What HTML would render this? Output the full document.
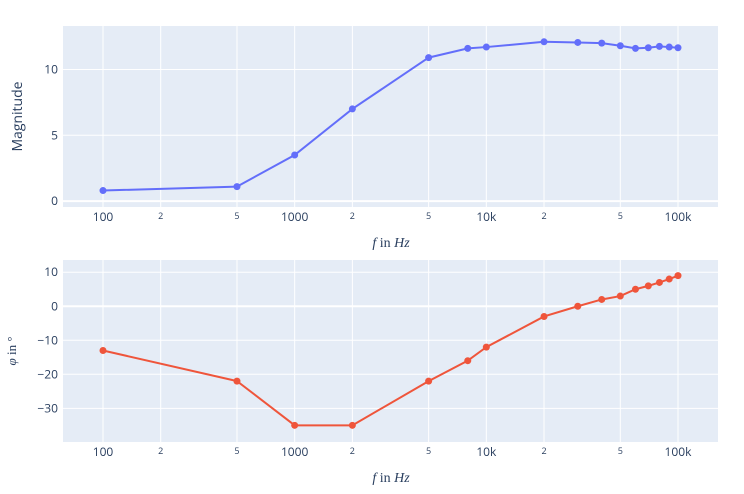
<!DOCTYPE html>
<html><head><meta charset="utf-8"><style>
body{margin:0;background:#fff}
svg{display:block;font-family:"Open Sans","Liberation Sans",sans-serif}
</style></head><body>
<svg id="c" width="744" height="494"></svg>
<script>
const freqs=[100,500,1000,2000,5000,8000,10000,20000,30000,40000,50000,60000,70000,80000,90000,100000];
const magnitude=[0.8,1.1,3.5,7.0,10.9,11.6,11.7,12.1,12.05,12.0,11.8,11.6,11.65,11.75,11.7,11.65];
const phase=[-13,-22,-35,-35,-22,-16,-12,-3,0,2,3,5,6,7,8,9];
const majorTicks=[100,1000,10000,100000];
const majorLabels=["100","1000","10k","100k"];
const minorTicks=[200,500,2000,5000,20000,50000];
const minorLabels=["2","5","2","5","2","5"];
const magTicks=[0,5,10];
const phaseTicks=[-30,-20,-10,0,10];
const phaseLabels=["−30","−20","−10","0","10"];

const NS="http://www.w3.org/2000/svg";
const svg=document.getElementById('c');
function mk(t,a,p){const e=document.createElementNS(NS,t);for(const k in a)e.setAttribute(k,a[k]);(p||svg).appendChild(e);return e;}
const L=63,R=718;
const lmin=1.7913,lmax=5.2087;
function X(f){return L+(Math.log10(f)-lmin)/(lmax-lmin)*(R-L);}

function panel(name,top,bot,ymin,ymax,ticks,labels,vals,color,title,titleHtml){
  const Y=v=>bot-(v-ymin)/(ymax-ymin)*(bot-top);
  const g=mk('g',{});
  
  
  const bg=mk('rect',{x:L,y:top,width:R-L,height:bot-top,fill:'#E5ECF6'},g);
  
  
  majorTicks.concat(minorTicks).forEach(f=>{mk('line',{x1:X(f),x2:X(f),y1:top,y2:bot,stroke:'#fff','stroke-width':1},g);});
  ticks.forEach((t,i)=>{
    mk('line',{x1:L,x2:R,y1:Y(t),y2:Y(t),stroke:'#fff','stroke-width':t===0?2:1},g);
    const tx=mk('text',{x:L-5,y:Y(t)+4,'text-anchor':'end','font-size':12,fill:'#2a3f5f'},g);
    tx.textContent=labels[i];
    
    
  });
  majorTicks.forEach((f,i)=>{
    const tx=mk('text',{x:X(f),y:bot+14,'text-anchor':'middle','font-size':12,fill:'#2a3f5f'},g);
    tx.textContent=majorLabels[i];
    
    
  });
  minorTicks.forEach((f,i)=>{
    const tx=mk('text',{x:X(f),y:bot+12,'text-anchor':'middle','font-size':9,fill:'#2a3f5f'},g);
    tx.textContent=minorLabels[i];
    
    
  });
  const pts=freqs.map((f,i)=>X(f)+','+Y(vals[i])).join(' ');
  const pl=mk('polyline',{points:pts,fill:'none',stroke:color,'stroke-width':2},g);
  
  
  freqs.forEach((f,i)=>{
    const c=mk('circle',{cx:X(f),cy:Y(vals[i]),r:3.5,fill:color},g);
    
    
  });
  const xt=mk('text',{x:391,y:bot+40,'text-anchor':'middle','font-size':14,fill:'#2a3f5f','font-family':'Liberation Serif,serif'},g);
  xt.innerHTML='<tspan font-style="italic">f</tspan> in <tspan font-style="italic">Hz</tspan>';
  
  
  const yt=mk('text',{x:0,y:0,'text-anchor':'middle','font-size':title?14:13,fill:'#2a3f5f',transform:'translate('+(title?22:16)+','+((top+bot)/2)+') rotate(-90)'},g);
  if(title)yt.textContent=title;else{yt.setAttribute('font-family','Liberation Serif,serif');yt.innerHTML='<tspan font-style="italic">φ</tspan> in °';}
  
  
}
panel('magnitude',26,207,-0.45,13.3,magTicks,magTicks.map(String),magnitude,'#636efa','Magnitude');
panel('phase',260,442,-39.9,13.6,phaseTicks,phaseLabels,phase,'#EF553B',null);
</script>
</body></html>
